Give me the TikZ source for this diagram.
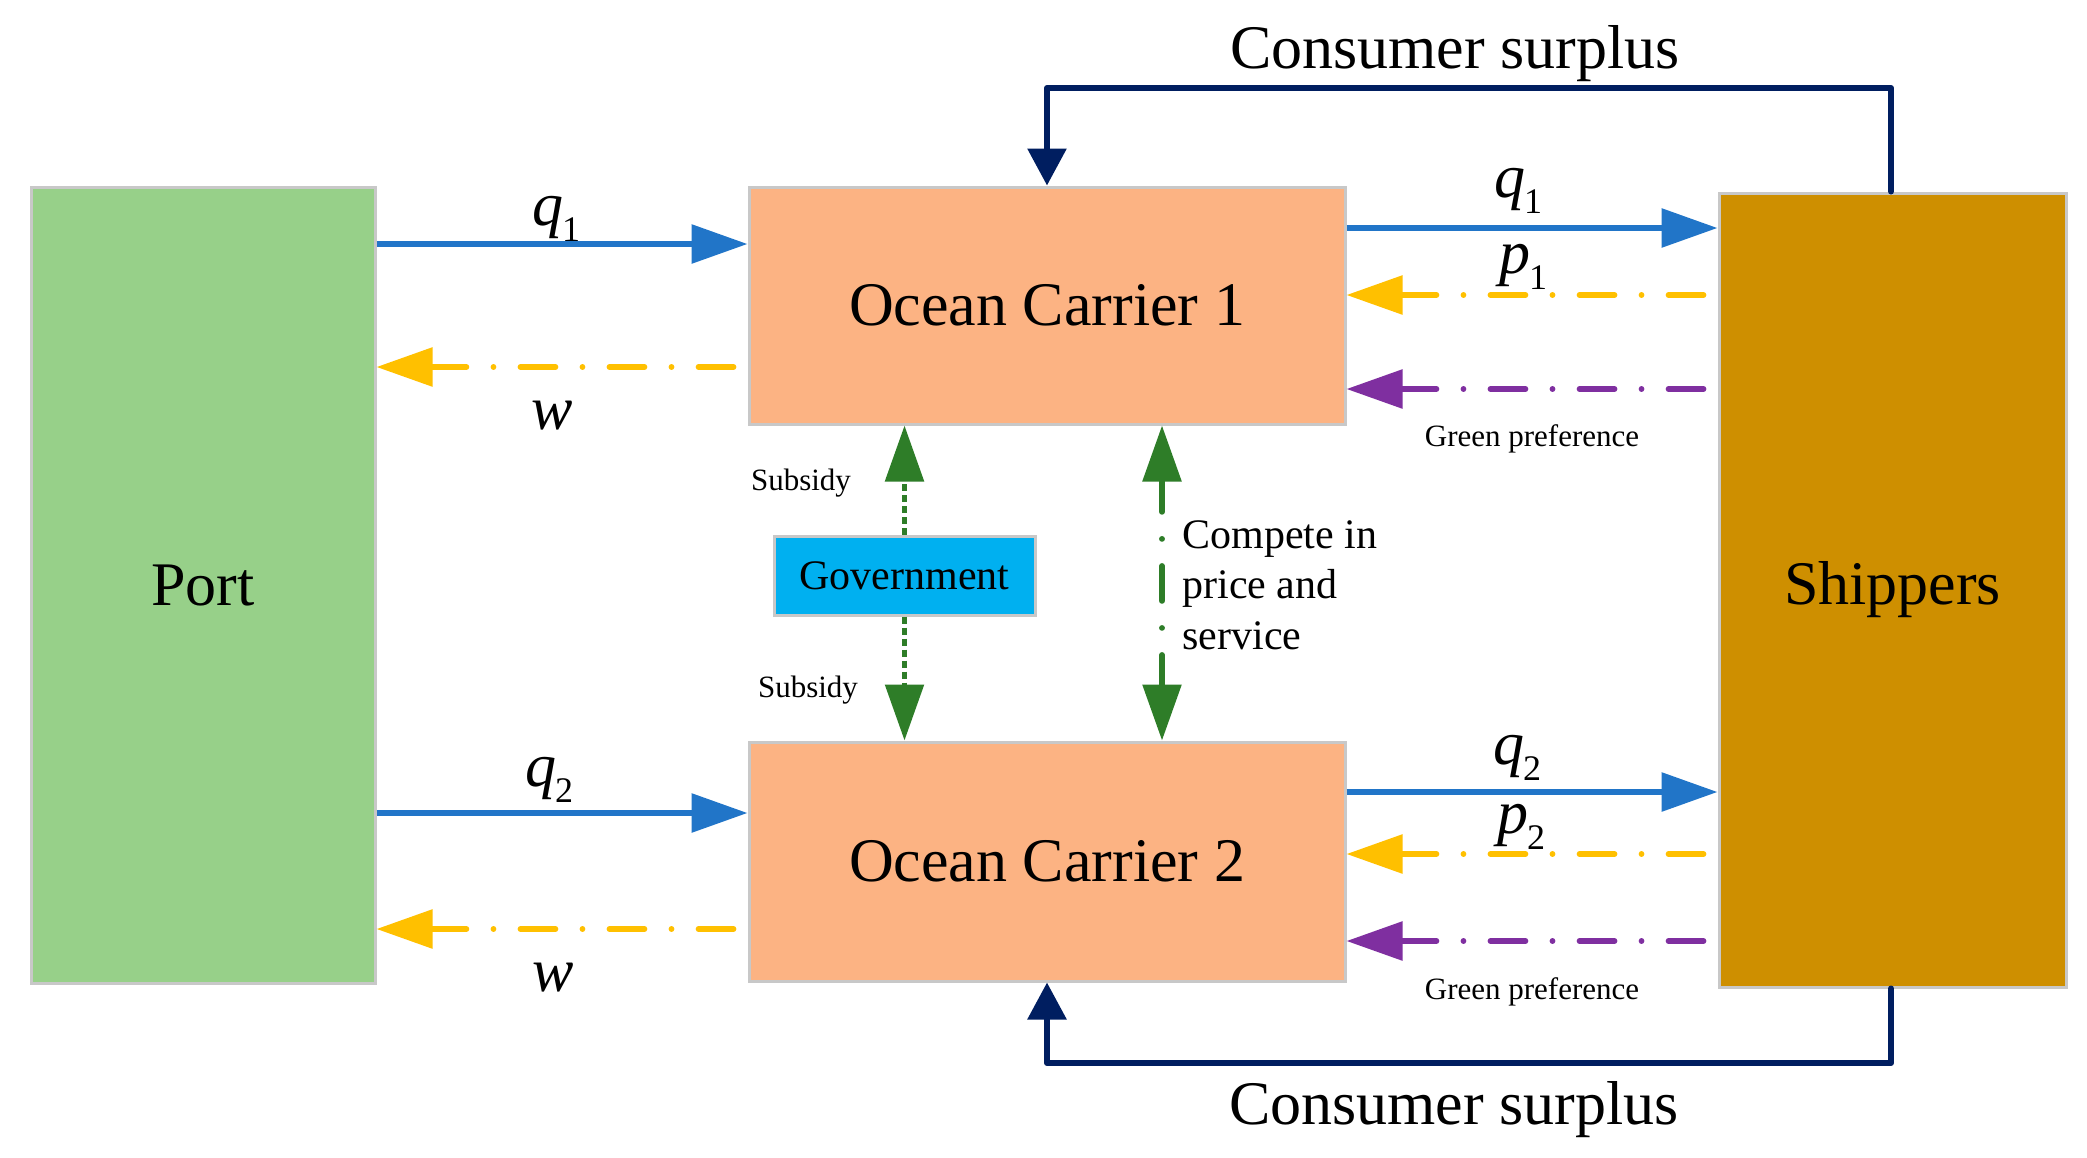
\documentclass[tikz,border=0pt]{standalone}
\usepackage{fontspec}
\setmainfont{Liberation Serif}
\usetikzlibrary{arrows.meta}
\definecolor{portgreen}{RGB}{151,208,137}
\definecolor{carrierorange}{RGB}{252,179,131}
\definecolor{shipgold}{RGB}{206,143,0}
\definecolor{govblue}{RGB}{0,176,240}
\definecolor{flowblue}{RGB}{33,117,200}
\definecolor{priceyellow}{RGB}{255,192,0}
\definecolor{greenpurple}{RGB}{127,47,160}
\definecolor{surplusnavy}{RGB}{0,30,96}
\definecolor{subgreen}{RGB}{46,125,40}
\definecolor{boxborder}{RGB}{200,200,200}
\newcommand\lab[2]{\textit{#1}\kern-0.5pt\raisebox{-8pt}{\fontsize{18}{18}\selectfont #2}}
\tikzset{
  box/.style={draw=boxborder, line width=1.5pt, inner sep=0pt},
  bigfont/.style={font=\fontsize{31}{37}\selectfont},
  midfont/.style={font=\fontsize{21}{25.25}\selectfont},
  smallfont/.style={font=\fontsize{15.5}{18}\selectfont},
  bighead/.tip={Triangle[length=28pt,width=19pt]},
  flowarrow/.style={draw=flowblue, line width=3pt, -bighead},
  dashdotarrow/.style={line width=2.85pt, line cap=round,
     dash pattern=on 17.5pt off 13.5pt on 0.01pt off 13.5pt, -bighead, shorten <=7pt},
  subsidyarrow/.style={draw=subgreen, line width=2.75pt, dash pattern=on 3.5pt off 2pt, -bighead},
  competearrow/.style={draw=subgreen, line width=2.85pt, line cap=round,
     dash pattern=on 17.5pt off 13.5pt on 0.01pt off 13.5pt, dash phase=2pt, bighead-bighead},
  surplusarrow/.style={draw=surplusnavy, line width=3pt, line cap=round, line join=round,
     -{Triangle[length=18.5pt,width=19pt]}},
  lbl/.style={anchor=base, inner sep=0pt},
}
\begin{document}
\begin{tikzpicture}[x=0.5pt,y=-0.5pt]
\fill[white] (0,0) rectangle (2087,1157);
\useasboundingbox (0,0) rectangle (2087,1157);

% boxes
\node[box, fill=portgreen, minimum width=172pt, minimum height=398pt, bigfont] (port) at (203,585) {Port};
\node[box, fill=carrierorange, minimum width=298pt, minimum height=118.5pt, bigfont] (c1) at (1047,305.5) {Ocean Carrier 1};
\node[box, fill=carrierorange, minimum width=298pt, minimum height=119.5pt, bigfont] (c2) at (1047,861.5) {Ocean Carrier 2};
\node[box, fill=shipgold, minimum width=173.5pt, minimum height=397pt, bigfont] (ship) at (1892.5,590) {Shippers};
\node[box, fill=govblue, minimum width=130.5pt, minimum height=39.5pt, midfont] (gov) at (904.5,575.5) {Government};

% helper coordinates
\coordinate (yq1) at (0,244);
\coordinate (yw1) at (0,367);
\coordinate (yq2) at (0,813);
\coordinate (yw2) at (0,929);
\coordinate (yq1r) at (0,228);
\coordinate (yp1) at (0,295);
\coordinate (yg1) at (0,389);
\coordinate (yq2r) at (0,792);
\coordinate (yp2) at (0,854);
\coordinate (yg2) at (0,941);
\coordinate (cx) at (1162,583);
\coordinate (nt) at (1891,88);
\coordinate (nb) at (1891,1063);

% port <-> carriers
\draw[flowarrow] (port.east |- yq1) -- (c1.west |- yq1);
\draw[dashdotarrow, draw=priceyellow] (c1.west |- yw1) -- (port.east |- yw1);
\draw[flowarrow] (port.east |- yq2) -- (c2.west |- yq2);
\draw[dashdotarrow, draw=priceyellow] (c2.west |- yw2) -- (port.east |- yw2);

% carriers <-> shippers
\draw[flowarrow] (c1.east |- yq1r) -- (ship.west |- yq1r);
\draw[dashdotarrow, draw=priceyellow] (ship.west |- yp1) -- (c1.east |- yp1);
\draw[dashdotarrow, draw=greenpurple] (ship.west |- yg1) -- (c1.east |- yg1);
\draw[flowarrow] (c2.east |- yq2r) -- (ship.west |- yq2r);
\draw[dashdotarrow, draw=priceyellow] (ship.west |- yp2) -- (c2.east |- yp2);
\draw[dashdotarrow, draw=greenpurple] (ship.west |- yg2) -- (c2.east |- yg2);

% government subsidies
\draw[subsidyarrow] (gov.north) -- (gov.north |- c1.south);
\draw[subsidyarrow] (gov.south) -- (gov.south |- c2.north);

% competition
\draw[competearrow] (c2.north -| cx) -- (c1.south -| cx);

% consumer surplus loops
\draw[surplusarrow] (ship.north -| nt) -- (nt) -- (nt -| c1.north) -- (c1.north);
\draw[surplusarrow] (ship.south -| nb) -- (nb) -- (nb -| c2.south) -- (c2.south);

% labels
\node[lbl, bigfont] (lq1) at (556,225) {\lab{q}{1}};
\node[lbl, bigfont] (lw1) at (552,429) {\textit{w}};
\node[lbl, bigfont] (lq2) at (549,786) {\lab{q}{2}};
\node[lbl, bigfont] (lw2) at (553,991) {\textit{w}};
\node[lbl, bigfont] (lq1r) at (1518,197) {\lab{q}{1}};
\node[lbl, bigfont] (lp1) at (1523,273) {\lab{p}{1}};
\node[lbl, bigfont] (lq2r) at (1517,764) {\lab{q}{2}};
\node[lbl, bigfont] (lp2) at (1521,833) {\lab{p}{2}};
\node[lbl, bigfont] (cs1) at (1455,68) {Consumer surplus};
\node[lbl, bigfont] (cs2) at (1454,1124) {Consumer surplus};
\node[lbl, smallfont] (sub1) at (801,490) {Subsidy};
\node[lbl, smallfont] (sub2) at (808,697) {Subsidy};
\node[lbl, smallfont] (gp1) at (1532,446) {Green preference};
\node[lbl, smallfont] (gp2) at (1532,999) {Green preference};
\node[midfont, anchor=base west, inner sep=0pt, align=left] (comp) at (1182,649) {Compete in\\price and\\service};
\end{tikzpicture}
\end{document}
